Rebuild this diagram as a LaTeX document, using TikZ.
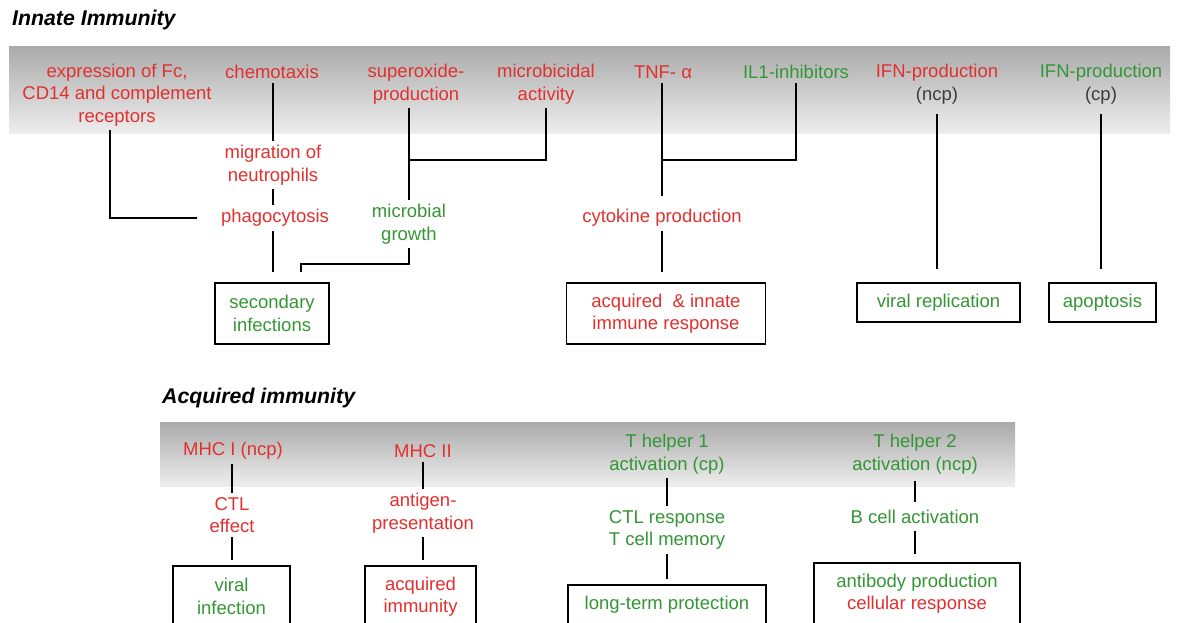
\documentclass[tikz,border=0pt]{standalone}
\usepackage{fontspec}
\setmainfont{Liberation Sans}
\usepackage{xcolor}
\usepackage{tikz}
\usetikzlibrary{calc}

\definecolor{redtxt}{RGB}{226,48,46}
\definecolor{greentxt}{RGB}{52,150,52}
\definecolor{greytxt}{RGB}{60,60,60}

\begin{document}
\begin{tikzpicture}[x=1pt, y=-1pt,
  txt/.style={align=center, inner sep=4pt, font=\fontsize{18.5}{22.5}\selectfont},
  rtxt/.style={txt, text=redtxt},
  gtxt/.style={txt, text=greentxt},
  box/.style={draw, line width=1.3pt, inner sep=0pt, align=center, font=\fontsize{18.5}{22.5}\selectfont},
  head/.style={anchor=west, inner sep=0pt, font=\fontsize{21.3}{24}\selectfont\bfseries\itshape},
  link/.style={line width=1.3pt}]

\useasboundingbox (0,0) rectangle (1177,623);
\clip (0,0) rectangle (1177,623);
\fill[white] (0,0) rectangle (1177,623);

% innate immunity
\node (innate) at (12,20) [head] {Innate Immunity};
\shade[top color=black!33, bottom color=black!7] (9,47) rectangle (1170,133);

\node (expr) at (117,95) [rtxt] {expression of Fc,\\CD14 and complement\\receptors};
\node (chemo) at (272,72) [rtxt] {chemotaxis};
\node (super) at (416,84) [rtxt] {superoxide-\\production};
\node (microcid) at (546,84) [rtxt] {microbicidal\\activity};
\node (tnf) at (663,72) [rtxt] {TNF- α};
\node (ilone) at (796,72) [gtxt] {IL1-inhibitors};
\node (ifnn) at (937,84) [txt] {\textcolor{redtxt}{IFN-production}\\\textcolor{greytxt}{(ncp)}};
\node (ifnc) at (1101,84) [txt] {\textcolor{greentxt}{IFN-production}\\\textcolor{greytxt}{(cp)}};

\node (migr) at (273,165) [rtxt] {migration of\\neutrophils};
\node (phago) at (275,218) [rtxt] {phagocytosis};
\node (growth) at (409,224) [gtxt] {microbial\\growth};
\node (cyto) at (662,218) [rtxt] {cytokine production};

\coordinate (jsuper) at (409,160);
\coordinate (jtnf) at (662,160);

\node (sec) at (272,313.5) [box, minimum width=114pt, minimum height=61pt, text=greentxt] {secondary\\infections};
\node (acq) at (666,313.5) [box, minimum width=199pt, minimum height=61pt, text=redtxt] {acquired~ \& innate\\immune response};
\node (vrep) at (938.5,302.5) [box, minimum width=163pt, minimum height=39pt, text=greentxt] {viral replication};
\node (apop) at (1102.5,302.5) [box, minimum width=107pt, minimum height=39pt, text=greentxt] {apoptosis};

\draw[link] (chemo.south -| migr) -- (migr.north);
\draw[link] (migr.south) -- (migr.south |- phago.north);
\draw[link, shorten >=10pt] (phago.south -| migr) -- (migr |- sec.north);
\draw[link, shorten >=20pt] ([xshift=-7pt]expr.south) |- (phago.west);
\draw[link] (super.south -| growth) -- (growth.north);
\draw[link] (microcid.south) |- (jsuper);
\draw[link, shorten >=10pt] (growth.south) -- ++(0,16) -| ([xshift=29pt]sec.north);
\draw[link, shorten >=9pt] (tnf.south -| cyto) -- (cyto.north);
\draw[link] (ilone.south) |- (jtnf);
\draw[link, shorten >=10pt] (cyto.south) -- (cyto.south |- acq.north);
\draw[link, shorten <=6pt, shorten >=13pt] (ifnn.south) -- (ifnn.south |- vrep.north);
\draw[link, shorten <=6pt, shorten >=13pt] (ifnc.south) -- (ifnc.south |- apop.north);

% acquired immunity
\node (acquired) at (162,398) [head] {Acquired immunity};
\shade[top color=black!33, bottom color=black!7] (160,422) rectangle (1015,486);

\node (mhcone) at (233,451) [rtxt] {MHC I (ncp)};
\node (mhctwo) at (423,451) [rtxt] {MHC II};
\node (thone) at (667,454) [gtxt] {T helper 1\\activation (cp)};
\node (thtwo) at (915,454) [gtxt] {T helper 2\\activation (ncp)};

\node (ctl) at (232,515) [rtxt] {CTL\\effect};
\node (antig) at (423,513) [rtxt] {antigen-\\presentation};
\node (ctlr) at (667,530) [gtxt] {CTL response\\T cell memory};
\node (bcell) at (915,517) [gtxt] {B cell activation};

\node (vinf) at (231.5,596.5) [box, minimum width=117pt, minimum height=61pt, text=greentxt] {viral\\infection};
\node (acqim) at (420.5,596.5) [box, minimum width=111pt, minimum height=61pt, text=redtxt] {acquired\\immunity};
\node (ltp) at (667,604.5) [box, minimum width=198pt, minimum height=39pt, text=greentxt] {long-term protection};
\node (ab) at (917,593.5) [box, minimum width=206pt, minimum height=61pt] {\textcolor{greentxt}{antibody production}\\\textcolor{redtxt}{cellular response}};

\draw[link] (mhcone.south -| ctl) -- (ctl.north);
\draw[link, shorten >=5pt] (ctl.south) -- (ctl.south |- vinf.north);
\draw[link] (mhctwo.south) -- (antig.north);
\draw[link, shorten >=5pt] (antig.south) -- (antig.south |- acqim.north);
\draw[link] (thone.south) -- (ctlr.north);
\draw[link, shorten >=5pt] (ctlr.south) -- (ctlr.south |- ltp.north);
\draw[link, shorten <=3pt, shorten >=4pt] (thtwo.south) -- (bcell.north);
\draw[link, shorten <=3pt, shorten >=8pt] (bcell.south) -- (bcell.south |- ab.north);

\end{tikzpicture}
\end{document}
